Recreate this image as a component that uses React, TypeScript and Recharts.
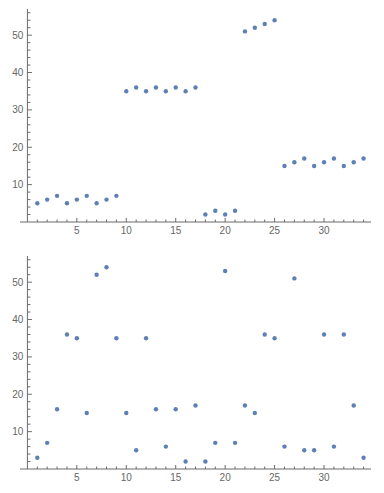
import React from 'react';
import { ScatterChart, Scatter, XAxis, YAxis, ReferenceLine } from 'recharts';

// x positions (1..34) and the two series
const positions = [
  1, 2, 3, 4, 5, 6, 7, 8, 9, 10, 11, 12, 13, 14, 15, 16, 17,
  18, 19, 20, 21, 22, 23, 24, 25, 26, 27, 28, 29, 30, 31, 32, 33, 34,
];
const topValues = [
  5, 6, 7, 5, 6, 7, 5, 6, 7, 35, 36, 35, 36, 35, 36, 35, 36,
  2, 3, 2, 3, 51, 52, 53, 54, 15, 16, 17, 15, 16, 17, 15, 16, 17,
];
const bottomValues = [
  3, 7, 16, 36, 35, 15, 52, 54, 35, 15, 5, 35, 16, 6, 16, 2, 17,
  2, 7, 53, 7, 17, 15, 36, 35, 6, 51, 5, 5, 36, 6, 36, 17, 3,
];
const xTicks = [
  1, 2, 3, 4, 5, 6, 7, 8, 9, 10, 11, 12, 13, 14, 15, 16, 17,
  18, 19, 20, 21, 22, 23, 24, 25, 26, 27, 28, 29, 30, 31, 32, 33, 34,
];
const yTicks = [2, 4, 6, 8, 10, 12, 14, 16, 18, 20, 22, 24, 26, 28, 30, 32, 34, 36, 38, 40, 42, 44, 46, 48, 50, 52, 54, 56];

const X_DOMAIN: [number, number] = [-0.75, 34.75];
const Y_DOMAIN: [number, number] = [0, 57];

const W = 384;
const Y_W = 1;
const M_LEFT = 19;
const M_RIGHT = 13;
const PLOT_LEFT = M_LEFT + Y_W;
const PLOT_W = W - PLOT_LEFT - M_RIGHT;
// pixel offset of x=0 from the plot's left edge (y axis sits at x=0)
const Y_AXIS_X = PLOT_LEFT + (PLOT_W * (0 - X_DOMAIN[0])) / (X_DOMAIN[1] - X_DOMAIN[0]);

const AXIS = '#6b6b6b';
const TEXT = '#666';
const DOT = '#5E81B5';
const FONT = '"Liberation Sans", Arial, sans-serif';

const XTick = (props: any) => {
  const { x, y, payload } = props;
  const v = payload.value;
  const major = v % 5 === 0;
  return (
    <g>
      <line x1={x} x2={x} y1={y} y2={y - (major ? 4 : 2.5)} stroke={AXIS} strokeWidth={1} />
      {major && (
        <text x={x} y={y + 8} textAnchor="middle" dominantBaseline="central"
          fontSize={10} fill={TEXT} fontFamily={FONT}>{v}</text>
      )}
    </g>
  );
};

const YTick = (props: any) => {
  const { y, payload } = props;
  const v = payload.value;
  const major = v % 10 === 0;
  const x0 = Y_AXIS_X;
  return (
    <g>
      <line x1={x0} x2={x0 + (major ? 4.5 : 3)} y1={y} y2={y} stroke={AXIS} strokeWidth={1} />
      {major && (
        <text x={x0 - 4} y={y} textAnchor="end" dominantBaseline="central"
          fontSize={10} fill={TEXT} fontFamily={FONT}>{v}</text>
      )}
    </g>
  );
};

const Dot = (p: any) => <circle cx={p.cx} cy={p.cy} r={2.2} fill={DOT} />;

function Panel({ values, height, axisH }: { values: number[]; height: number; axisH: number }) {
  const data = positions.map((x, i) => ({ x, y: values[i] }));
  return (
    <ScatterChart width={W} height={height} margin={{ top: 9, right: M_RIGHT, bottom: 0, left: M_LEFT }}>
      <XAxis type="number" dataKey="x" domain={X_DOMAIN} ticks={xTicks} interval={0}
        allowDataOverflow height={axisH} tickSize={0} tickMargin={0} tickLine={false}
        axisLine={{ stroke: AXIS }} tick={<XTick />} />
      <YAxis type="number" dataKey="y" domain={Y_DOMAIN} ticks={yTicks} interval={0}
        allowDataOverflow width={Y_W} tickSize={0} tickMargin={0} tickLine={false}
        axisLine={false} tick={<YTick />} />
      <ReferenceLine x={0} stroke={AXIS} strokeWidth={1} />
      <Scatter data={data} shape={<Dot />} isAnimationActive={false} />
    </ScatterChart>
  );
}

export default function App() {
  return (
    <div style={{ position: 'absolute', left: 0, top: 0, width: W, height: 493, overflow: 'hidden', background: '#fff' }}>
      <Panel values={topValues} height={247} axisH={25} />
      <Panel values={bottomValues} height={246} axisH={24} />
    </div>
  );
}
